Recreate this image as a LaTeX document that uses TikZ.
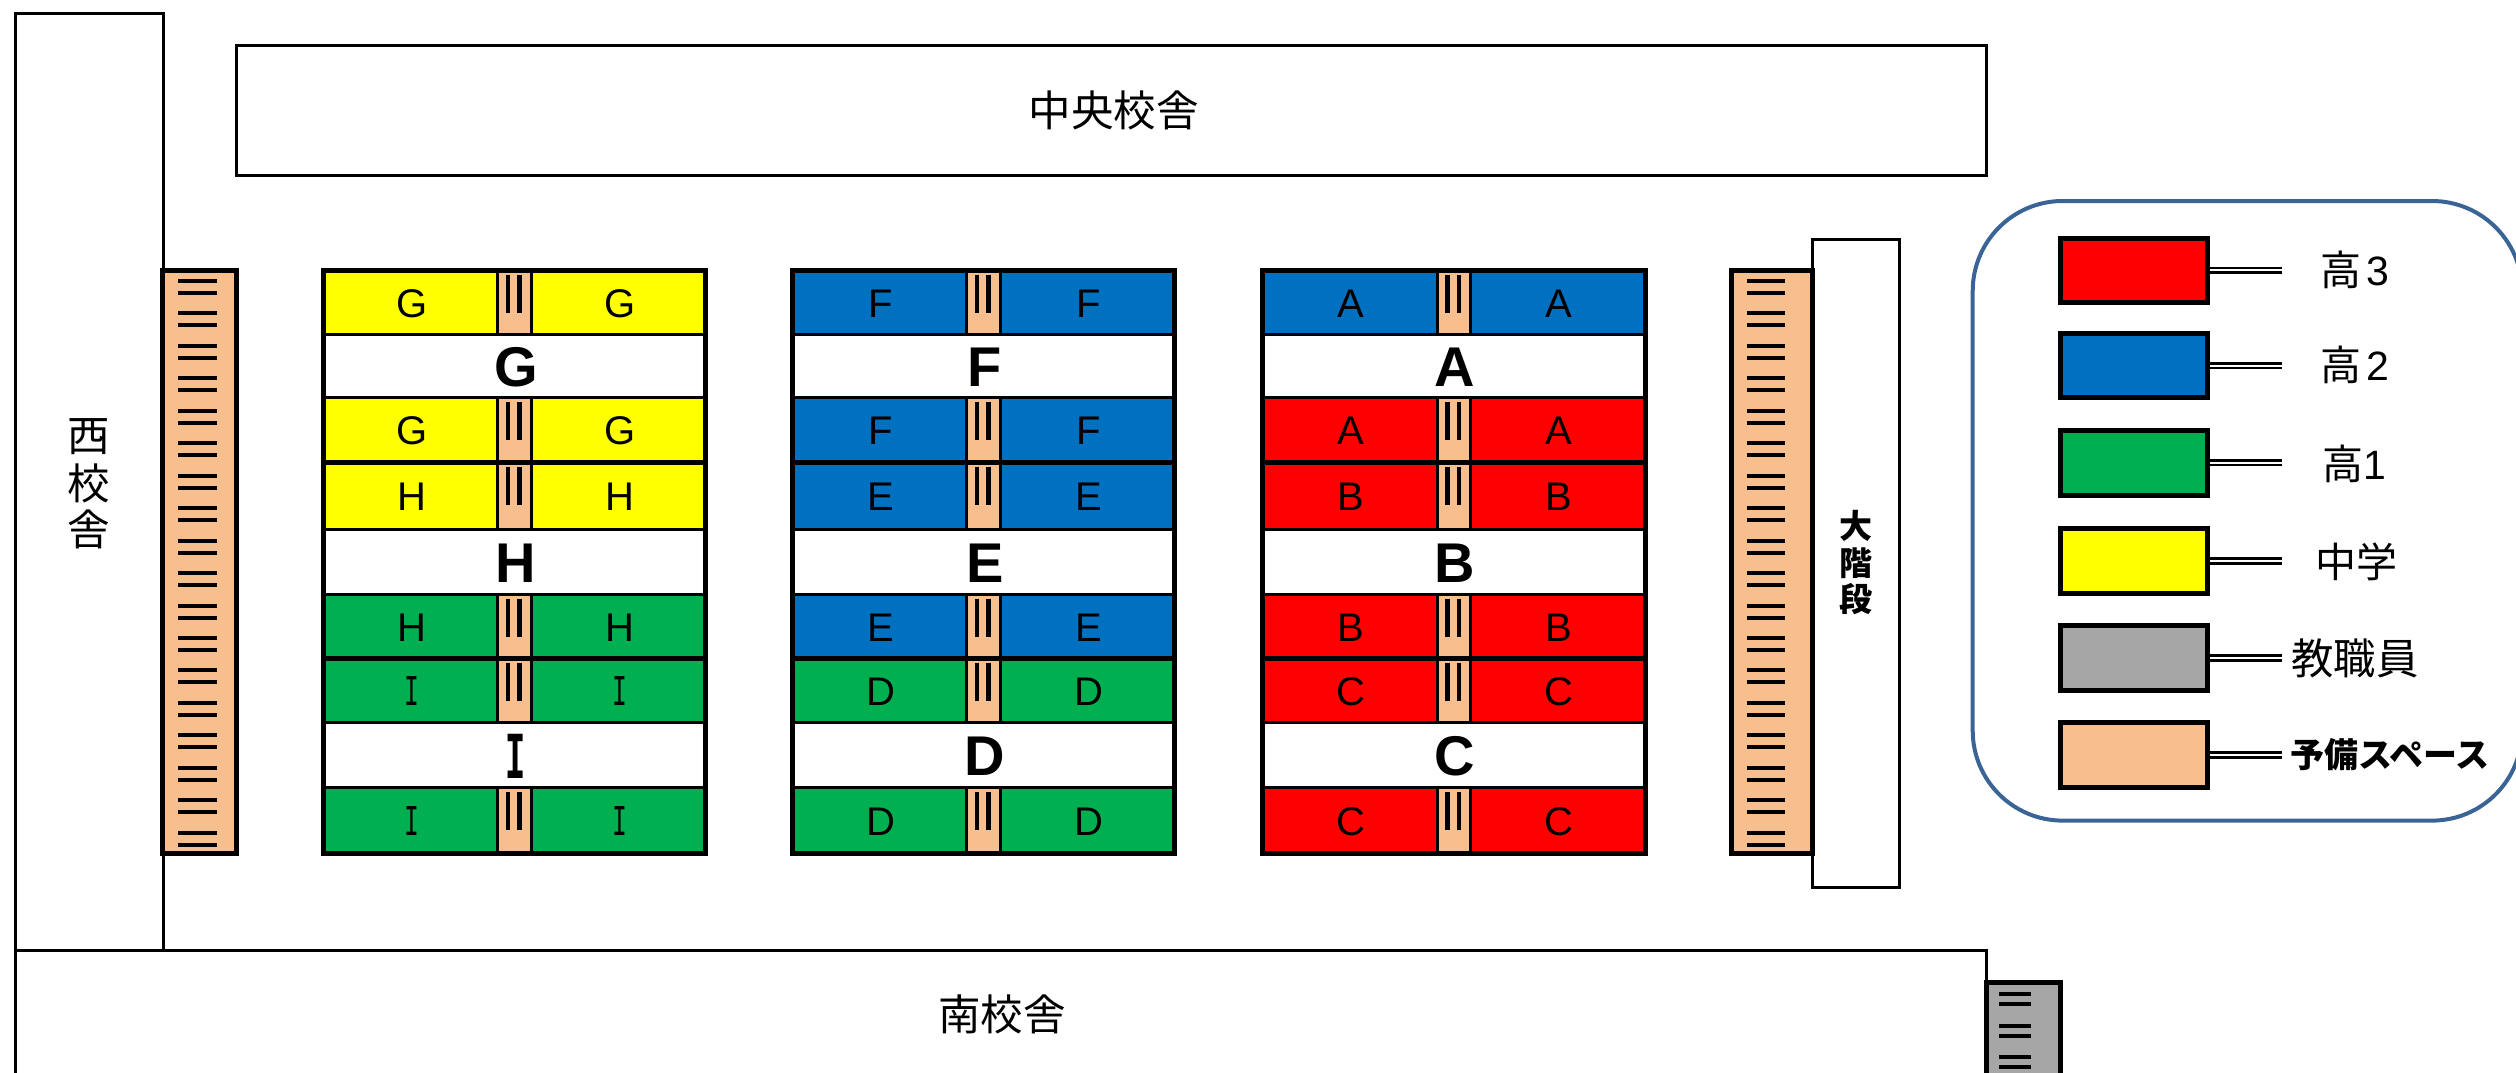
\documentclass[tikz,border=0pt]{standalone}
\usepackage{fontspec}
\setmainfont{Liberation Sans}
\newfontfamily\jp{Noto Sans CJK JP}
\newfontfamily\monoI{Liberation Mono}
\definecolor{cred}{HTML}{FF0000}
\definecolor{cblu}{HTML}{0070C0}
\definecolor{cgrn}{HTML}{00B050}
\definecolor{cyel}{HTML}{FFFF00}
\definecolor{cgry}{HTML}{A6A6A6}
\definecolor{cpch}{HTML}{F8BF8E}
\definecolor{cbrd}{HTML}{3A6496}
\def\tmpI{I}
\newcommand\smalllab[1]{\edef\tmpx{#1}\ifx\tmpx\tmpI{\monoI\fontsize{40}{40}\selectfont\scalebox{0.62}[1.1]{I}}\else{\fontsize{40}{40}\selectfont #1}\fi}
\newcommand\biglab[1]{\edef\tmpx{#1}\ifx\tmpx\tmpI{\monoI\bfseries\fontsize{56}{56}\selectfont\scalebox{0.6}[1.2]{I}}\else{\bfseries\fontsize{56}{56}\selectfont #1}\fi}
\tikzset{
  wall/.style={draw=black,line width=3pt,line join=miter},
  heavy/.style={draw=black,line width=5pt,line join=miter},
  thinrow/.style={draw=black,line width=3pt},
  thickrow/.style={draw=black,line width=5pt},
  aisleline/.style={draw=black,line width=3pt},
  tick/.style={draw=black,line width=4pt},
  atick/.style={draw=black,line width=4.6pt},
  txt/.style={inner sep=0pt,outer sep=0pt,anchor=center,text=black},
  jp42/.style={txt,font=\jp\fontsize{42.5}{42.5}\selectfont},
  jp40/.style={txt,font=\jp\fontsize{41}{41}\selectfont},
  swatch/.style={draw=black,line width=5pt,minimum width=147.4pt,minimum height=64.6pt,inner sep=0pt,anchor=center},
  lead/.style={draw=black,line width=2.6pt,double=white,double distance=2pt},
}
\begin{document}
\begin{tikzpicture}[x=1pt,y=-1pt]
\path[use as bounding box,fill=white] (0,0) rectangle (2516,1073);
% buildings
\draw[wall] (163.5,950.5) -- (163.5,13.3) -- (15.7,13.3) -- (15.7,1090);
\draw[wall] (15.7,950.5) -- (1986.3,950.5) -- (1986.3,985);
\draw[wall] (236.3,45.3) rectangle (1986.5,175.3);
\draw[wall] (1812.5,239.7) rectangle (1899.3,887);
\node[jp42] (central) at (1113.5,110) {中央校舎};
\node[jp42] (south) at (1002,1014) {南校舎};
\node[jp42] (west1) at (88.8,437) {西};
\node[jp42] (west2) at (88.8,483) {校};
\node[jp42] (west3) at (88.8,529) {舎};
\node[txt,font=\jp\bfseries\fontsize{33}{33}\selectfont] (stair1) at (1856,526) {大};
\node[txt,font=\jp\bfseries\fontsize{33}{33}\selectfont] (stair2) at (1856,563) {階};
\node[txt,font=\jp\bfseries\fontsize{33}{33}\selectfont] (stair3) at (1856,599) {段};
% side stairs
\draw[heavy,fill=cpch] (162.8,270.3) rectangle (236.6,853.3);
\draw[heavy,fill=cpch] (1731.3,270.3) rectangle (1812.7,853.3);
\foreach \i in {0,...,17}{
  \pgfmathsetmacro\ya{281+32.45*\i}
  \pgfmathsetmacro\yb{\ya+12}
  \draw[tick] (178.3,\ya) -- (216.7,\ya);
  \draw[tick] (178.3,\yb) -- (216.7,\yb);
  \draw[tick] (1747,\ya) -- (1785,\ya);
  \draw[tick] (1747,\yb) -- (1785,\yb);
}
% class blocks
\foreach \bx/\bn/\colA/\colB/\colC/\colD/\colE/\colF/\la/\lb/\lc in {
  323.5/g/cyel/cyel/cyel/cgrn/cgrn/cgrn/G/H/I,
  792.5/f/cblu/cblu/cblu/cblu/cgrn/cgrn/F/E/D,
  1262.7/a/cblu/cred/cred/cred/cred/cred/A/B/C}{
  \pgfmathsetmacro\bxr{\bx+382.3}
  \pgfmathsetmacro\axl{\bx+174.4}
  \pgfmathsetmacro\axr{\bx+208.2}
  \pgfmathsetmacro\tkl{\bx+184.5}
  \pgfmathsetmacro\tkr{\bx+196.2}
  \pgfmathsetmacro\lbl{\bx+88.5}
  \pgfmathsetmacro\lbr{\bx+296.5}
  \pgfmathsetmacro\lbc{\bx+192.5}
  \fill[white] (\bx,270.3) rectangle (\bxr,853.3);
  \foreach \ya/\yb/\rowcol/\ll [count=\r] in {
    270.3/334.3/\colA/\la, 397.3/462.3/\colB/\la, 462.3/529.3/\colC/\lb,
    594.3/658.3/\colD/\lb, 658.3/722.3/\colE/\lc, 787.3/853.3/\colF/\lc}{
    \fill[\rowcol] (\bx,\ya) rectangle (\bxr,\yb);
    \fill[cpch] (\axl,\ya) rectangle (\axr,\yb);
    \draw[aisleline] (\axl,\ya) -- (\axl,\yb);
    \draw[aisleline] (\axr,\ya) -- (\axr,\yb);
    \pgfmathsetmacro\tkt{\ya+4.4}
    \pgfmathsetmacro\tkb{\ya+42.9}
    \draw[atick] (\tkl,\tkt) -- (\tkl,\tkb);
    \draw[atick] (\tkr,\tkt) -- (\tkr,\tkb);
    \pgfmathsetmacro\ym{(\ya+\yb)/2+1}
    \node[txt] (cell-\bn-\r-l) at (\lbl,\ym) {\smalllab{\ll}};
    \node[txt] (cell-\bn-\r-r) at (\lbr,\ym) {\smalllab{\ll}};
  }
  \foreach \ym/\ll [count=\r] in {367/\la, 563/\lb, 756/\lc}{
    \node[txt] (hall-\bn-\r) at (\lbc,\ym) {\biglab{\ll}};
  }
  \foreach \yy in {334.3,397.3,529.3,594.3,722.3,787.3}{
    \draw[thinrow] (\bx,\yy) -- (\bxr,\yy);
  }
  \foreach \yy in {462.3,658.3}{
    \draw[thickrow] (\bx,\yy) -- (\bxr,\yy);
  }
  \draw[heavy] (\bx,270.3) rectangle (\bxr,853.3);
}
% staff stair
\draw[heavy,fill=cgry] (1986.3,982.3) rectangle (2060.3,1090);
\foreach \yy in {993.7,1003.7,1025.7,1035.7,1056.7,1066.7}{
  \draw[tick] (1999,\yy) -- (2030.7,\yy);
}
% legend
\draw[draw=cbrd,line width=4pt,fill=white,rounded corners=90pt] (1972.7,201) rectangle (2522,820.6);
\foreach \nm/\col/\yy in {a/cred/270.3,b/cblu/365.6,c/cgrn/462.8,d/cyel/560.9,e/cgry/657.9,f/cpch/754.9}{
  \node[swatch,fill=\col] (sw\nm) at (2134,\yy) {};
  \coordinate (end\nm) at (2282,\yy);
  \draw[lead] (sw\nm.east) -- (end\nm);
}
\node[jp40] (lega) at (2355,270) {高\hspace{5pt}{\rmfamily 3}};
\node[jp40] (legb) at (2355,364.5) {高\hspace{5pt}{\rmfamily 2}};
\node[jp40] (legc) at (2354,464) {高{\rmfamily 1}};
\node[jp40] (legd) at (2356,561.5) {中学};
\node[jp42] (lege) at (2355,658.5) {教職員};
\node[txt,font=\jp\bfseries\fontsize{34}{34}\selectfont] (legf) at (2390,755) {予備スペース};
\end{tikzpicture}
\end{document}
